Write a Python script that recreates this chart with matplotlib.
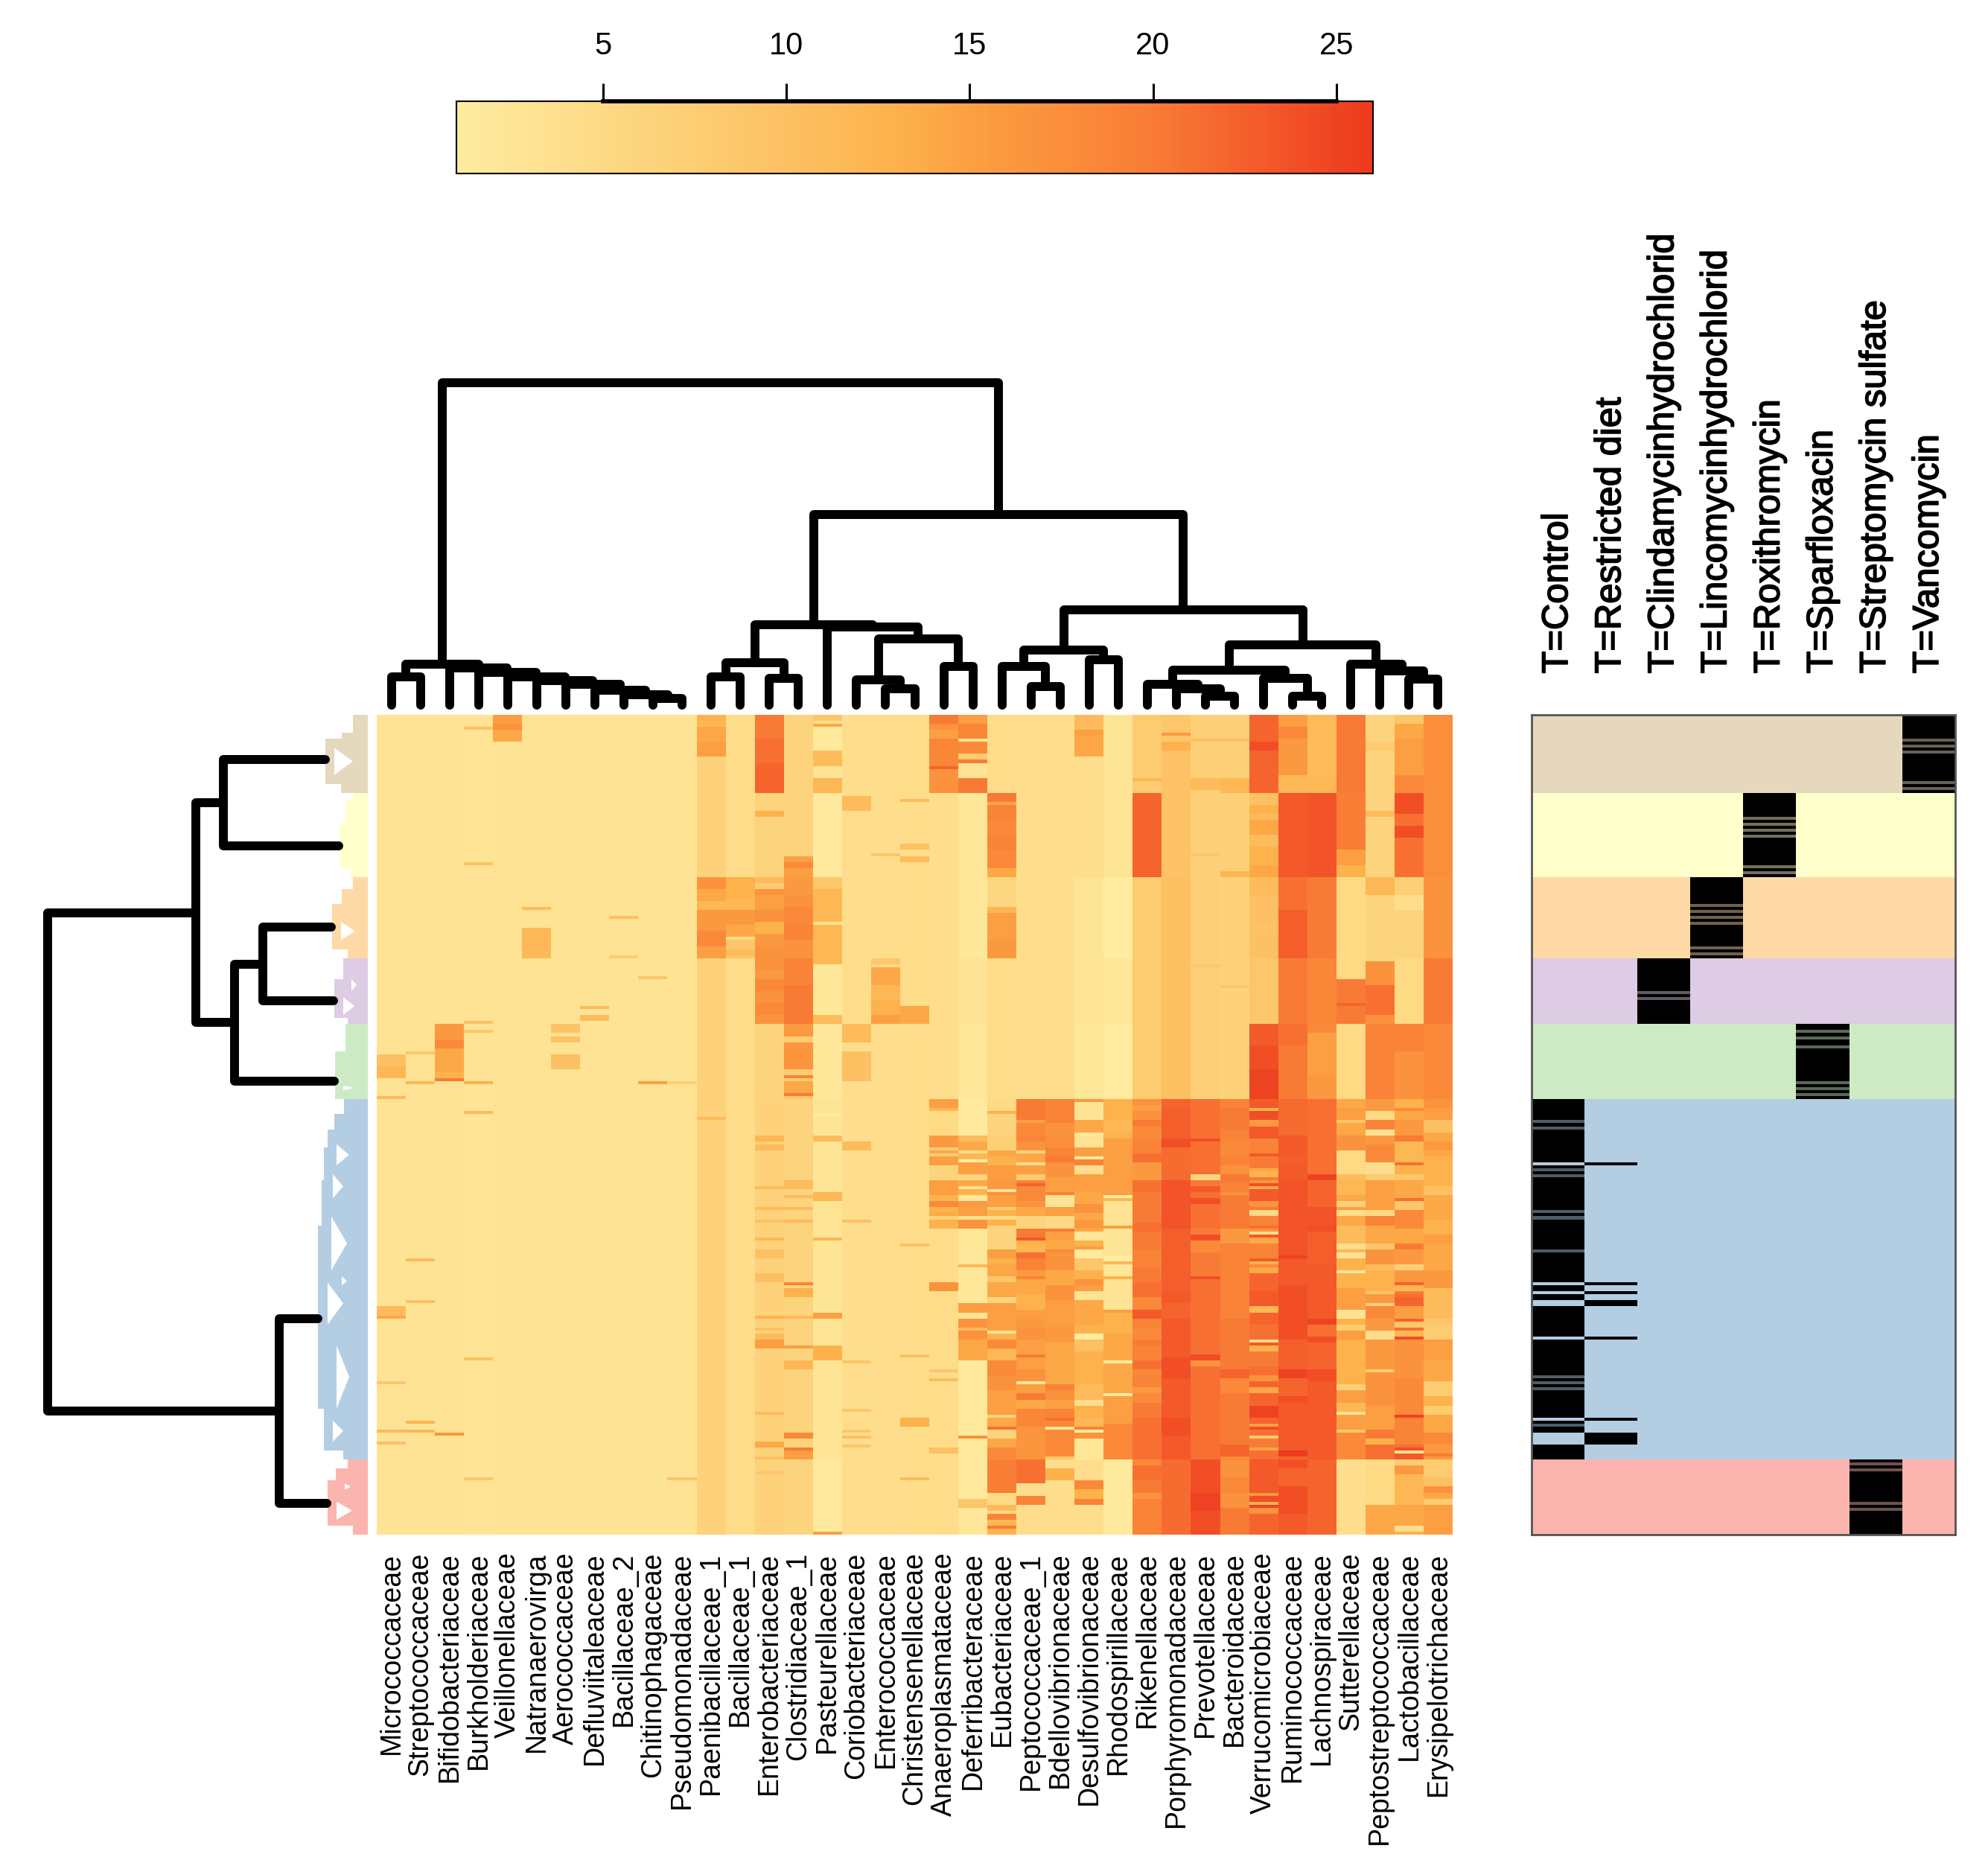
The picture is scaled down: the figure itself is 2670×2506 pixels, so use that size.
import numpy as np
import matplotlib
matplotlib.use('Agg')
import matplotlib.pyplot as plt
import matplotlib.patheffects as pe
from matplotlib.colors import LinearSegmentedColormap, to_rgb

plt.rcParams['font.family'] = ['Liberation Sans', 'DejaVu Sans']

W, H = 2670, 2506
N_ROWS = 273

families = ['Micrococcaceae', 'Streptococcaceae', 'Bifidobacteriaceae', 'Burkholderiaceae',
            'Veillonellaceae', 'Natranaerovirga', 'Aerococcaceae', 'Defluviitaleaceae',
            'Bacillaceae_2', 'Chitinophagaceae', 'Pseudomonadaceae', 'Paenibacillaceae_1',
            'Bacillaceae_1', 'Enterobacteriaceae', 'Clostridiaceae_1', 'Pasteurellaceae',
            'Coriobacteriaceae', 'Enterococcaceae', 'Christensenellaceae', 'Anaeroplasmataceae',
            'Deferribacteraceae', 'Eubacteriaceae', 'Peptococcaceae_1', 'Bdellovibrionaceae',
            'Desulfovibrionaceae', 'Rhodospirillaceae', 'Rikenellaceae', 'Porphyromonadaceae',
            'Prevotellaceae', 'Bacteroidaceae', 'Verrucomicrobiaceae', 'Ruminococcaceae',
            'Lachnospiraceae', 'Sutterellaceae', 'Peptostreptococcaceae', 'Lactobacillaceae',
            'Erysipelotrichaceae']

treatments = ['T=Control', 'T=Restricted diet', 'T=Clindamycinhydrochlorid',
              'T=Lincomycinhydrochlorid', 'T=Roxithromycin', 'T=Sparfloxacin',
              'T=Streptomycin sulfate', 'T=Vancomycin']

# rows of each cluster, top to bottom
group_stops = [26, 54, 81, 103, 128, 248, 273]
group_colors = ['#E5D8BD', '#FFFFCC', '#FED9A6', '#DECBE4', '#CCEBC5', '#B3CDE3', '#FBB4AE']
group_treatment = [7, 4, 3, 2, 5, 0, 6]

# heatmap columns (last row, value)
micrococcaceae = [(113, 3), (117, 10), (121, 12), (127, 3), (128, 11), (197, 3), (200, 11), (201, 14),
                  (222, 3), (223, 9), (238, 3), (239, 11), (242, 3), (243, 10), (273, 3)]
streptococcaceae = [(112, 3), (113, 9), (122, 3), (123, 12), (181, 3), (182, 11), (195, 3), (196, 10),
                    (235, 3), (236, 12), (238, 3), (239, 12), (273, 3)]
bifidobacteriaceae = [(103, 3), (108, 16), (111, 18), (119, 14), (121, 13), (122, 20), (239, 3), (240, 17),
                      (273, 3)]
burkholderiaceae = [(4, 3), (5, 10), (49, 2.7), (50, 10), (102, 3), (103, 10), (105, 2.7), (106, 9),
                    (122, 3), (123, 13), (132, 2.5), (133, 11), (214, 2.6), (215, 10), (254, 2.6), (255, 9),
                    (273, 2.6)]
veillonellaceae = [(3, 15), (5, 17), (9, 14), (273, 3)]
natranaerovirga = [(64, 3), (65, 11), (71, 3), (81, 11.5), (273, 3)]
aerococcaceae = [(103, 3), (106, 9.5), (107, 3), (109, 9.5), (113, 3), (118, 10), (273, 3)]
defluviitaleaceae = [(97, 3), (98, 11), (100, 3), (102, 11), (273, 3)]
bacillaceae_2 = [(67, 3), (68, 10), (80, 3), (81, 8), (273, 3)]
chitinophagaceae = [(87, 3), (88, 9), (122, 3), (123, 15), (273, 3)]
pseudomonadaceae = [(122, 3), (123, 7), (254, 3), (255, 9.5), (273, 3)]
paenibacillaceae_1 = [(2, 13), (4, 12), (9, 14), (14, 15), (54, 6.5), (58, 17), (62, 14), (65, 12), (72, 16),
                      (77, 18), (81, 15), (134, 6.5), (135, 11), (273, 6.5)]
bacillaceae_1 = [(54, 4.5), (61, 13), (65, 12), (70, 16), (74, 14), (75, 5), (78, 9), (80, 11), (81, 9),
                 (273, 4.5)]
enterobacteriaceae = [(8, 20), (16, 21), (26, 22), (32, 6), (34, 13), (54, 6), (56, 11), (58, 8), (60, 17),
                      (65, 15), (69, 17), (73, 13), (77, 16), (81, 17), (85, 17), (88, 16), (92, 18), (96, 17),
                      (100, 18), (103, 17), (128, 6), (140, 6.5), (142, 12), (143, 6.5), (145, 11), (157, 6.5),
                      (158, 11), (164, 6.5), (165, 11), (168, 6.5), (169, 10), (174, 6.5), (175, 12), (178, 6.5),
                      (181, 10), (186, 6.5), (189, 10), (200, 6.5), (201, 13), (204, 6.5), (205, 10), (206, 6.5),
                      (208, 11), (211, 15), (232, 6.5), (233, 11), (242, 6.5), (244, 14), (247, 6.5), (248, 10),
                      (252, 6.5), (253, 9), (273, 6.5)]
clostridiaceae_1 = [(47, 6), (49, 15), (51, 18), (54, 15), (60, 16), (64, 17), (70, 18), (75, 19), (81, 17),
                    (90, 19), (103, 20), (107, 16), (109, 8), (118, 16.5), (120, 8), (121, 19), (122, 8), (126, 14),
                    (127, 20), (128, 9), (155, 6), (158, 11), (160, 6), (161, 11), (164, 6), (165, 11),
                    (168, 6), (169, 11), (189, 6), (190, 19), (191, 6), (194, 13), (200, 6), (201, 11),
                    (210, 6), (211, 15), (215, 6), (218, 12), (239, 6), (241, 18), (244, 6), (245, 20),
                    (248, 15), (273, 6)]
pasteurellaceae = [(2, 9), (3, 4), (4, 14), (12, 1.5), (17, 11), (21, 3), (26, 12), (54, 1.5), (58, 9), (69, 12),
                   (70, 3), (83, 12), (100, 2), (103, 11), (128, 2), (133, 2.5), (134, 1), (140, 2.5),
                   (142, 11), (159, 2.5), (162, 12), (174, 2.5), (175, 12), (199, 2.5), (201, 15),
                   (210, 2.5), (215, 13), (248, 2.5), (272, 1.5), (273, 15)]
coriobacteriaceae = [(27, 4), (32, 11), (103, 4), (109, 11), (112, 4), (122, 10), (142, 4), (145, 11), (168, 4),
                     (169, 10), (215, 4), (216, 9), (231, 4), (232, 9), (238, 4), (239, 9), (240, 4),
                     (241, 10), (243, 4), (244, 9), (273, 4)]
enterococcaceae = [(46, 4), (47, 9), (81, 4), (83, 9), (84, 5), (90, 14), (95, 12), (100, 13), (103, 15),
                   (273, 4)]
christensenellaceae = [(28, 4.2), (29, 11), (43, 4.2), (45, 10), (47, 4.2), (49, 11), (97, 4.2), (103, 14),
                       (176, 4.2), (177, 10), (213, 4.2), (214, 10), (234, 4.2), (237, 13), (254, 4.2),
                       (255, 11), (273, 4.2)]
anaeroplasmataceae = [(3, 20), (5, 17), (8, 15), (17, 18.5), (18, 22), (26, 17), (128, 4), (131, 15), (132, 12),
                      (140, 5), (144, 16), (145, 8), (146, 14), (147, 8), (150, 15), (155, 6), (160, 15), (162, 13),
                      (164, 18), (166, 13), (167, 14), (168, 7), (171, 13), (189, 4.5), (192, 17), (218, 4.5),
                      (219, 9), (221, 4.5), (222, 11), (244, 4.5), (246, 10), (273, 4.5)]
deferribacteraceae = [(3, 15), (8, 18.5), (9, 3), (13, 18), (15, 8), (16, 20), (21, 3), (26, 20), (54, 2),
                      (81, 2), (103, 3), (128, 2), (140, 1.5), (142, 11), (145, 14), (146, 5), (148, 12), (149, 1),
                      (153, 15), (155, 6), (157, 14), (158, 3), (160, 13), (162, 2), (164, 16), (167, 15),
                      (168, 4), (171, 17), (183, 2), (184, 12), (196, 2), (199, 15), (201, 3), (204, 17),
                      (205, 11), (208, 17), (215, 14), (240, 1.5), (241, 17), (261, 1.5), (264, 9), (273, 2)]
eubacteriaceae = [(26, 4.5), (29, 20), (30, 14), (35, 19), (40, 18), (45, 19), (51, 18), (54, 14), (64, 5.5),
                  (66, 12), (75, 15), (81, 16), (128, 4.5), (132, 5), (133, 13), (140, 6), (145, 7), (147, 14),
                  (150, 13), (155, 15.5), (158, 16), (159, 3), (160, 17), (164, 15), (165, 8), (167, 13),
                  (168, 5), (170, 13), (178, 6), (181, 15), (183, 13), (187, 14), (189, 9), (194, 14),
                  (196, 6), (201, 15), (205, 15), (206, 3), (208, 13), (211, 18), (215, 12), (220, 18),
                  (225, 17), (233, 15), (234, 6), (237, 14), (238, 21), (241, 6), (244, 14), (248, 18),
                  (259, 19.5), (263, 5), (265, 11), (266, 5), (268, 19), (270, 12), (271, 20), (273, 13)]
peptococcaceae_1 = [(128, 4), (135, 20), (136, 15), (140, 18), (142, 19), (145, 17), (146, 6), (149, 14),
                    (150, 4), (153, 15), (155, 8), (156, 19), (157, 22), (162, 18), (164, 17), (167, 14),
                    (171, 6), (174, 20), (175, 23), (177, 13), (179, 12), (181, 21), (185, 19), (187, 16),
                    (188, 19), (193, 14), (198, 13), (201, 15), (204, 16), (208, 17), (213, 15), (214, 20),
                    (218, 15), (222, 17), (223, 2), (226, 15), (228, 20), (231, 14), (237, 18.5), (248, 16.5),
                    (256, 21), (260, 4), (263, 19), (273, 4)]
bdellovibrionaceae = [(128, 4), (136, 19), (140, 17), (144, 17.5), (147, 19), (149, 20), (154, 17), (159, 15),
                      (160, 19), (164, 3), (167, 15), (171, 5), (172, 20), (175, 15), (178, 14), (179, 18),
                      (185, 17), (190, 14), (195, 17), (203, 15), (209, 16), (223, 14), (225, 19), (228, 17),
                      (231, 15), (234, 19), (235, 21), (237, 18), (238, 2), (243, 18), (247, 18), (248, 9),
                      (251, 4), (255, 13), (273, 4)]
desulfovibrionaceae = [(5, 11), (7, 15), (14, 14), (54, 4), (103, 2.5), (128, 2), (129, 16), (135, 3), (139, 14),
                       (140, 2), (144, 3), (147, 15), (148, 1), (150, 19), (153, 4), (159, 15), (163, 14),
                       (166, 17), (168, 14), (171, 16), (172, 14), (175, 2), (177, 13), (178, 15), (181, 1.5),
                       (185, 9), (188, 13), (190, 17), (192, 15), (195, 3), (203, 14), (206, 13), (208, 1),
                       (212, 10), (223, 13), (228, 11), (230, 4), (234, 13), (237, 12), (238, 19), (239, 1),
                       (241, 17), (248, 2), (255, 4), (258, 18), (261, 13), (263, 19), (273, 4)]
rhodospirillaceae = [(54, 2.5), (81, 1), (103, 2), (128, 1), (135, 13), (139, 12), (141, 13), (160, 15), (161, 1),
                     (162, 12), (170, 3), (171, 15), (180, 2.5), (182, 1), (183, 12), (187, 2), (188, 13),
                     (198, 3), (199, 15), (206, 13), (215, 14), (216, 1), (226, 14), (227, 1), (236, 15),
                     (248, 18), (273, 1.5)]
rikenellaceae = [(21, 8), (22, 12), (26, 8), (54, 22), (128, 8), (130, 17), (132, 15), (135, 17), (137, 20),
                 (141, 18), (146, 19), (149, 21), (155, 16), (159, 21), (169, 20), (172, 21), (178, 20),
                 (184, 19), (189, 20), (194, 21), (198, 18), (201, 23), (204, 19), (208, 18), (210, 20),
                 (215, 19), (218, 21), (220, 18), (224, 19), (226, 16), (229, 18), (234, 20), (248, 21),
                 (250, 18), (255, 21), (259, 20), (261, 17), (273, 19)]
porphyromonadaceae = [(6, 9), (7, 16), (9, 9), (12, 13), (54, 9.5), (128, 10), (131, 22), (141, 22.5), (144, 24),
                      (155, 21.5), (171, 23.5), (192, 22.5), (196, 23), (201, 22), (214, 23), (218, 24),
                      (221, 24), (234, 23), (240, 24), (248, 23), (273, 21.5)]
prevotellaceae = [(8, 7), (9, 10), (21, 7), (25, 11), (46, 7), (47, 9), (83, 7), (84, 9), (128, 7), (141, 21),
                  (142, 24), (153, 21), (155, 6), (157, 20), (159, 23), (161, 21), (163, 24), (171, 21),
                  (173, 20), (175, 24), (179, 18), (187, 20), (188, 24), (213, 21), (215, 24), (217, 17),
                  (248, 21), (259, 24), (265, 25), (273, 24)]
bacteroidaceae = [(8, 7), (9, 10), (21, 7), (26, 12), (52, 7), (54, 12), (90, 6.5), (91, 9), (128, 6.5), (131, 19),
                  (138, 20), (142, 19), (147, 18), (150, 19), (153, 17), (156, 20), (159, 19), (160, 17),
                  (171, 20), (176, 16), (178, 19), (201, 19), (218, 20), (221, 22), (226, 18), (243, 20),
                  (247, 22), (248, 18), (254, 17), (259, 18), (264, 17), (273, 20)]
verrucomicrobiaceae = [(9, 22), (12, 24), (26, 22), (30, 10), (33, 13), (35, 11), (40, 14), (44, 11), (50, 13),
                       (54, 14), (60, 11), (70, 10), (74, 9.5), (81, 10), (103, 9), (110, 23), (118, 24),
                       (128, 25), (131, 23), (132, 13), (135, 24), (137, 16), (141, 23), (146, 19), (147, 23),
                       (151, 20), (152, 14), (154, 13), (155, 20), (156, 16), (157, 24), (158, 14), (162, 23),
                       (164, 17), (165, 20), (167, 5), (170, 19), (171, 21), (172, 17), (173, 4), (174, 23),
                       (176, 14), (181, 19), (182, 23), (183, 13), (184, 18), (186, 14), (192, 22), (197, 23),
                       (199, 12), (203, 22), (208, 21), (209, 5), (210, 23), (212, 13), (217, 20), (220, 21),
                       (222, 17), (224, 22), (226, 14), (230, 22), (234, 25), (236, 22), (237, 15), (238, 24),
                       (240, 21), (241, 8), (244, 20), (245, 14), (248, 21), (259, 23), (260, 16), (262, 24),
                       (263, 13), (264, 25), (266, 17), (273, 22)]
ruminococcaceae = [(4, 15), (8, 18), (20, 16), (26, 12), (54, 23), (65, 21), (81, 22.5), (103, 20),
                   (110, 21), (128, 20), (140, 21.5), (147, 23), (149, 22.5), (155, 23), (180, 23.5),
                   (181, 25), (190, 23), (198, 24), (208, 24), (218, 22.5), (221, 25), (227, 22), (229, 24),
                   (245, 23), (247, 26), (248, 22), (251, 24), (257, 22), (266, 24), (273, 23)]
lachnospiraceae = [(20, 11), (26, 12), (54, 23.5), (81, 20), (103, 18.5), (106, 18), (120, 15), (128, 16),
                   (153, 21), (155, 25), (164, 22), (170, 23.5), (172, 24), (183, 22.5), (201, 23), (203, 25),
                   (207, 21), (209, 24), (218, 22), (222, 24), (248, 23), (273, 22)]
sutterellaceae = [(26, 20), (45, 19.5), (50, 15), (54, 13), (88, 5), (96, 20), (97, 22), (103, 20), (128, 5),
                  (131, 14), (135, 15), (136, 9), (140, 14), (145, 17), (153, 5), (155, 11), (160, 12),
                  (162, 14), (164, 7), (165, 15), (167, 4), (170, 14), (176, 11), (178, 4), (179, 12),
                  (181, 3), (185, 13), (186, 2), (191, 13), (198, 15), (201, 3), (203, 13), (205, 8), (208, 15),
                  (223, 13), (225, 7), (229, 15), (232, 12), (233, 3), (238, 15), (239, 9), (248, 18),
                  (273, 4)]
peptostreptococcaceae = [(9, 6), (12, 8), (32, 6), (34, 11), (54, 6), (60, 12), (82, 6), (90, 17), (100, 21),
                         (103, 17), (128, 19), (132, 16), (135, 5), (138, 19), (140, 3), (143, 16), (149, 18),
                         (153, 4), (155, 8), (165, 15), (167, 5), (170, 19), (176, 14), (178, 9), (183, 17),
                         (185, 11), (192, 13), (193, 9), (196, 16), (197, 7), (201, 18), (205, 16), (208, 4),
                         (218, 16), (219, 8), (230, 17), (238, 15), (241, 20), (243, 13), (248, 21), (263, 5),
                         (273, 14)]
lactobacillaceae = [(3, 9), (8, 14), (20, 15), (26, 18), (33, 24), (37, 21), (41, 24), (54, 21), (60, 7), (65, 4),
                    (81, 6), (103, 5), (112, 19), (128, 17), (131, 13), (132, 18), (135, 14), (140, 16),
                    (142, 20), (149, 12), (150, 21), (153, 13), (155, 9), (161, 14), (162, 21), (165, 9),
                    (171, 18), (176, 14), (178, 20), (183, 16), (185, 7), (189, 16), (190, 22), (192, 12),
                    (193, 20), (194, 21), (197, 22), (201, 15), (202, 22), (204, 9), (205, 21), (207, 12),
                    (208, 24), (221, 17), (233, 18), (234, 25), (243, 19), (244, 21), (245, 24), (246, 3),
                    (248, 23), (250, 8), (253, 16), (263, 12), (270, 14), (272, 4), (273, 13)]
erysipelotrichaceae = [(54, 17.5), (81, 17), (103, 20), (128, 18), (131, 17), (135, 15), (139, 10), (142, 14),
                       (145, 16), (147, 14), (157, 13), (160, 10), (168, 14), (173, 13), (176, 15), (185, 14),
                       (191, 16), (201, 11), (203, 9), (208, 8), (215, 15), (222, 14), (227, 8), (230, 13),
                       (233, 8), (239, 14), (243, 18), (246, 16), (247, 20), (248, 16), (254, 8), (257, 10),
                       (259, 17), (261, 14), (263, 8), (273, 15)]

columns = [micrococcaceae, streptococcaceae, bifidobacteriaceae, burkholderiaceae, veillonellaceae,
           natranaerovirga, aerococcaceae, defluviitaleaceae, bacillaceae_2, chitinophagaceae,
           pseudomonadaceae, paenibacillaceae_1, bacillaceae_1, enterobacteriaceae, clostridiaceae_1,
           pasteurellaceae, coriobacteriaceae, enterococcaceae, christensenellaceae, anaeroplasmataceae,
           deferribacteraceae, eubacteriaceae, peptococcaceae_1, bdellovibrionaceae, desulfovibrionaceae,
           rhodospirillaceae, rikenellaceae, porphyromonadaceae, prevotellaceae, bacteroidaceae,
           verrucomicrobiaceae, ruminococcaceae, lachnospiraceae, sutterellaceae, peptostreptococcaceae,
           lactobacillaceae, erysipelotrichaceae]

# treatment stripes: rows that are not black, or only half black
restricted_rows = [149, 189, 192, 195, 196, 207, 234, 239, 240, 241, 242]
faint_rows = {7: [8, 10, 12, 22, 24], 4: [34, 36, 38, 40, 50, 52], 3: [63, 65, 67, 69, 77, 79],
              2: [92, 94], 5: [105, 107, 110, 122, 124, 126],
              0: [135, 137, 151, 153, 165, 167, 178, 220, 222, 224, 236],
              6: [249, 251, 262, 264]}

# column dendrogram: (height, left, right), leaves are column numbers
tree_low = (54.6, (37.7, 0, 1), (50, 2, (44.3, 3, (38, 4, (33, 5, (27.8, 6, (20.2, 7, (14.4, 8, (8.6, 9, 10)))))))))
tree_paeni = (56.8, (37.7, 11, 12), (36.4, 13, 14))
tree_corio = (89, (34, 16, (22, 17, 18)), (52.4, 19, 20))
tree_mid = (108, tree_paeni, (104.6, 15, tree_corio))
tree_eub = (74, (52, 21, (25, 22, 23)), (61, 24, 25))
tree_rik = (47, (28, 26, (22, 27, (12, 28, 29))), (36, 30, (12, 31, 32)))
tree_sut = (54.6, 33, (46.5, 34, (35, 35, 36)))
tree_high = (128, tree_eub, (81, tree_rik, tree_sut))
column_tree = (433, tree_low, (256, tree_mid, tree_high))

# row dendrogram between the clusters, same form, leaves are cluster numbers
group_centres = [15, 43.7, 70.7, 95.3, 122, 201, 262.5]
group_reach = [57, 39, 49, 46, 45, 67, 55]
row_tree = (430, (231, (194, 0, 1), (179, (141, 2, 3), 4)), (119, 5, 6))

# outlines of the dense dendrograms in each cluster: (last row, depth)
beige_outline = [(6, 20), (8, 35), (23, 57), (26, 36)]
yellow_outline = [(28, 20), (36, 30), (51, 38), (54, 23)]
peach_outline = [(58, 20), (63, 35), (78, 48), (81, 27)]
purple_outline = [(88, 33), (101, 45), (103, 27)]
green_outline = [(112, 30), (128, 44)]
blue_outline = [(133, 32), (138, 45), (144, 54), (155, 59), (170, 62), (231, 67), (245, 59), (248, 33)]
pink_outline = [(251, 27), (255, 43), (270, 54), (273, 20)]
group_outlines = [beige_outline, yellow_outline, peach_outline, purple_outline, green_outline,
                  blue_outline, pink_outline]

# white gaps inside them: (first row, last row, far depth, near depth)
group_holes = [[(11, 20, 45, 20)], [], [(69, 75, 36, 17)], [(88, 92, 22, 15), (94, 100, 33, 18)],
               [(123.5, 125, 33, 18)],
               [(143, 150, 42, 25), (153, 161, 47, 33), (167, 185, 49, 28), (187, 190, 35, 28),
                (189, 203, 54, 33), (210, 231, 42, 25), (235, 242, 47, 33)],
               [(256, 258, 31, 23), (262, 268, 42, 21)]]

color_anchors = [(1, '#FFEC9F'), (3, '#FEE394'), (5, '#FEDA85'), (8, '#FDCB70'), (10, '#FDC164'),
                 (13, '#FEB24C'), (15, '#FCA043'), (18, '#FB8B3A'), (20, '#F97C36'), (23, '#F45A2A'),
                 (25, '#EF4423'), (26, '#EE3A1E')]
cbar_ticks = [5, 10, 15, 20, 25]

VMIN, VMAX = 1, 26
cmap = LinearSegmentedColormap.from_list(
    'heat', [((v - VMIN) / (VMAX - VMIN), c) for v, c in color_anchors])


def box(x0, y0, x1, y1):
    # pixel box of the picture, y from the top
    return [x0 / W, 1 - y1 / H, (x1 - x0) / W, (y1 - y0) / H]


def expand(runs):
    values = np.full(N_ROWS, float(runs[-1][1]))
    start = 0
    for stop, val in runs:
        values[start:stop] = val
        start = stop
    return values


def draw_tree(ax, node, pos, reach, lw, vertical):
    if not isinstance(node, tuple):
        return pos[node], reach[node]
    h, left, right = node
    p0, h0 = draw_tree(ax, left, pos, reach, lw, vertical)
    p1, h1 = draw_tree(ax, right, pos, reach, lw, vertical)
    xs, ys = [p0, p0, p1, p1], [h0, h, h, h1]
    if not vertical:
        xs, ys = ys, xs
    ax.plot(xs, ys, color='k', lw=lw, solid_capstyle='round', solid_joinstyle='round', clip_on=False)
    return (p0 + p1) / 2, h


fig = plt.figure(figsize=(W / 100, H / 100), dpi=100)

# heatmap
data = np.column_stack([expand(c) for c in columns])
ax = fig.add_axes(box(506, 960, 1951, 2061))
ax.imshow(data, cmap=cmap, vmin=VMIN, vmax=VMAX, aspect='auto', interpolation='nearest')
ax.set_yticks([])
ax.set_xticks(range(len(families)))
ax.set_xticklabels(families, rotation=90, fontsize=27, va='top', ha='center')
ax.tick_params(axis='x', length=0, pad=17)
for s in ax.spines.values():
    s.set_visible(False)

# column dendrogram
ax = fig.add_axes(box(506, 497, 1951, 947))
ax.set_xlim(-0.5, len(families) - 0.5)
ax.set_ylim(0, 450)
ax.axis('off')
draw_tree(ax, column_tree, list(range(len(families))), [0] * len(families), 8.6, True)

# row dendrogram
ax = fig.add_axes(box(0, 960, 494, 2061))
ax.set_xlim(494, 0)
ax.set_ylim(N_ROWS, 0)
ax.axis('off')
start = 0
for g, outline in enumerate(group_outlines):
    rows, depth = [], []
    first = start
    for stop, d in outline:
        rows += [first, stop]
        depth += [d, d]
        first = stop
    ax.fill_betweenx(rows, 0, depth, color=group_colors[g], lw=0)
    for r0, r1, far, near in group_holes[g]:
        ax.fill([far, far, near], [r0, r1, (r0 + r1) / 2], color='white', lw=0)
    start = group_stops[g]
draw_tree(ax, row_tree, group_centres, group_reach, 8.6, False)

# treatment matrix
labels = np.zeros((N_ROWS, len(treatments)), dtype=float)
rgb = np.zeros((N_ROWS, len(treatments), 3))
start = 0
for g, stop in enumerate(group_stops):
    rgb[start:stop] = to_rgb(group_colors[g])
    t = group_treatment[g]
    labels[start:stop, t] = 1
    for r in faint_rows[t]:
        if start <= r < stop:
            labels[r, t] = 0.55
    start = stop
for r in restricted_rows:
    labels[r, 0] = 0
    labels[r, 1] = 1
rgb = rgb * (1 - labels[..., None])
ax = fig.add_axes(box(2057, 960, 2626, 2061))
ax.imshow(rgb, aspect='auto', interpolation='nearest')
ax.set_yticks([])
ax.set_xticks(range(len(treatments)))
ax.set_xticklabels(treatments, rotation=90, fontsize=35.2, va='bottom', ha='center',
                   path_effects=[pe.withStroke(linewidth=1.2, foreground='k')])
ax.xaxis.tick_top()
ax.tick_params(axis='x', length=0, pad=40)
for s in ax.spines.values():
    s.set_color('#555555')
    s.set_linewidth(2)

# colour key
ax = fig.add_axes(box(613, 136, 1844, 233))
gradient = np.linspace(VMIN, VMAX, 256).reshape(1, -1)
ax.imshow(gradient, cmap=cmap, vmin=VMIN, vmax=VMAX, aspect='auto', extent=[VMIN, VMAX, 0, 1])
ax.set_yticks([])
ax.set_xticks(cbar_ticks)
ax.xaxis.tick_top()
ax.tick_params(axis='x', length=17, width=2.2, labelsize=30, pad=22)
ax.plot([cbar_ticks[0], cbar_ticks[-1]], [1, 1], color='k', lw=4, clip_on=False)
for s in ax.spines.values():
    s.set_linewidth(1.5)

fig.savefig('out.png', dpi=100)
